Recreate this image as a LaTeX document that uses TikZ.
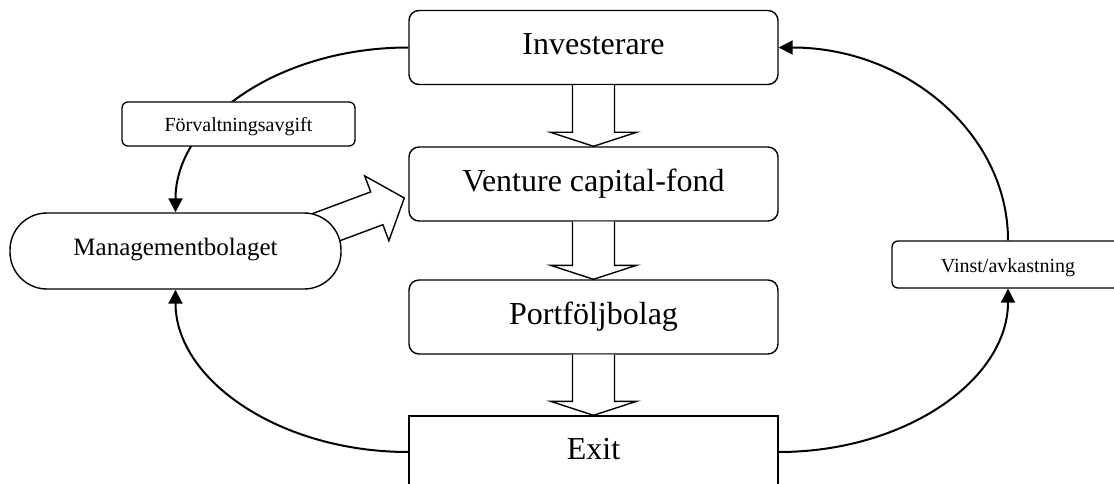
\documentclass[tikz,border=0pt]{standalone}
\usepackage{fontspec}
\setmainfont{Liberation Serif}
\usetikzlibrary{calc,arrows.meta,backgrounds}
\begin{document}
\begin{tikzpicture}[x=1pt,y=-1pt,
  mainbox/.style={draw, line width=1.4pt, rounded corners=10pt, minimum width=369pt, minimum height=74pt, inner sep=0pt, font=\fontsize{32}{36}\selectfont, text height=22pt, text depth=7pt},
  smallbox/.style={draw, fill=white, line width=1.3pt, rounded corners=6pt, minimum width=233pt, inner sep=0pt, font=\fontsize{20}{24}\selectfont, text height=15.5pt, text depth=0pt},
  flowcurve/.style={line width=2pt, -{Triangle[length=14pt,width=14pt]}},
  fatarrow/.style={draw, fill=white, line width=1.4pt}
]
\useasboundingbox (0,0) rectangle (1114,484);

% main column
\node[mainbox] (inv) at (593.5,47.5) {Investerare};
\node[mainbox] (vcf) at (593.5,184) {Venture capital-fond};
\node[mainbox] (pb) at (593.5,317) {Portföljbolag};
\node[mainbox, rounded corners=0pt, minimum height=72pt] (exit) at (593.5,452) {Exit};

% side nodes
\node[draw, fill=white, line width=1.4pt, rounded corners=37pt, minimum width=331pt, minimum height=76pt, inner sep=0pt,
      font=\fontsize{25}{30}\selectfont, text height=17pt, text depth=7.6pt] (mgmt) at (175.5,251) {Managementbolaget};
\node[smallbox, minimum height=47pt, minimum width=232pt] (vinst) at (1008,264.5) {Vinst/avkastning};

% fat arrows down the column
\foreach \a/\b in {inv/vcf,vcf/pb,pb/exit}
  \draw[fatarrow] ($(\a.south)+(-21,0)$) -- ($(\b.north)+(-21,-14)$) -- ($(\b.north)+(-43,-14)$)
    -- (\b.north) -- ($(\b.north)+(43,-14)$) -- ($(\b.north)+(21,-14)$) -- ($(\a.south)+(21,0)$);

% fat arrow from Managementbolaget to fund
\coordinate (T) at ($(vcf.west)+(-4,14)$);
\begin{scope}[on background layer]
\draw[fatarrow] ($(T)+(-146.7,36.1)$) -- ($(T)+(-33.6,-6.1)$) -- ($(T)+(-39.6,-22.1)$) -- (T)
  -- ($(T)+(-15.4,42.7)$) -- ($(T)+(-21.4,26.7)$) -- ($(T)+(-134.5,68.9)$) -- cycle;
\end{scope}

% curved flows
\draw[flowcurve] (inv.west) .. controls +(-129,0) and +(0,-92) .. (mgmt.north);
\draw[flowcurve] (exit.west) .. controls +(-129,0) and +(0,90) .. (mgmt.south);
\draw[flowcurve] (exit.east) .. controls +(127,0) and +(0,91) .. (vinst.south);
\draw[flowcurve] (vinst.north) .. controls +(0,-107) and +(127,0) .. (inv.east);

% label box on the left curve
\node[smallbox, minimum height=44pt] (fa) at (238.5,124) {Förvaltningsavgift};
\end{tikzpicture}
\end{document}
